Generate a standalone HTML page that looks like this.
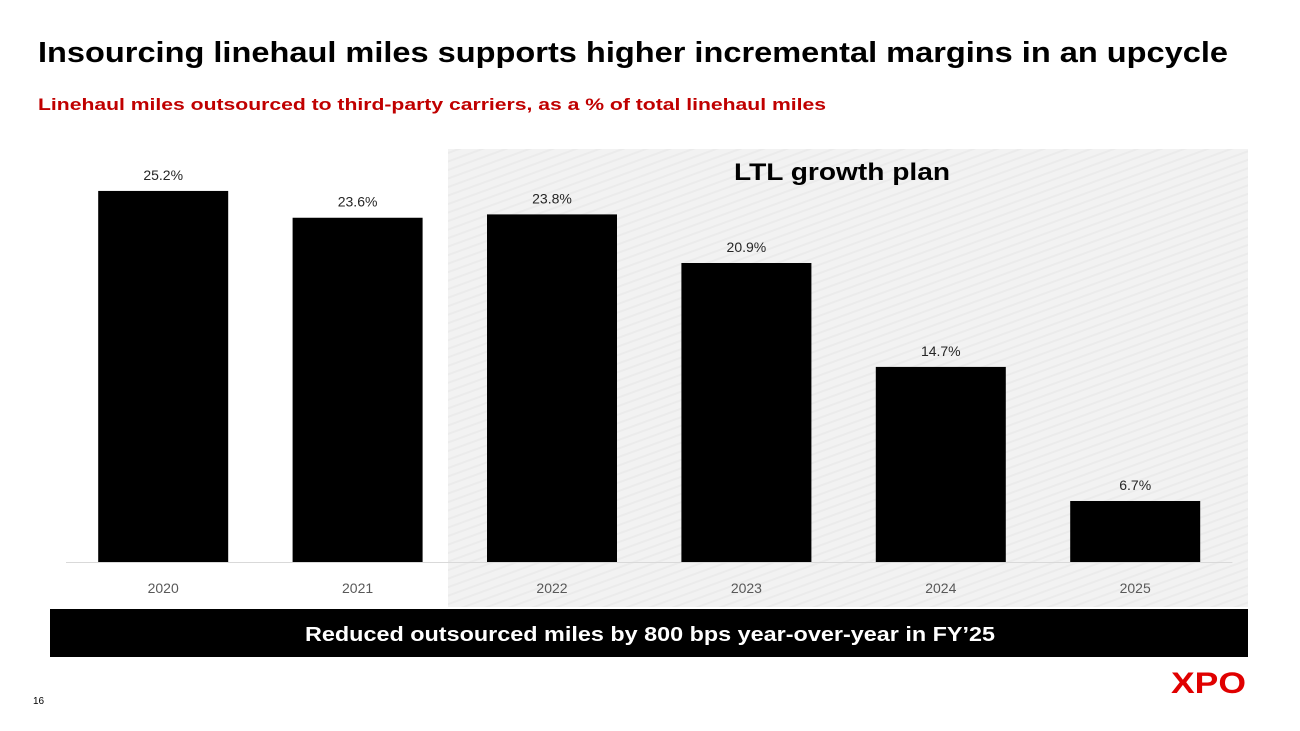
<!DOCTYPE html>
<html><head><meta charset="utf-8"><style>
body{margin:0;background:#fff;}
svg{display:block;font-family:"Liberation Sans",sans-serif;}
</style></head><body>
<svg width="1300" height="731" viewBox="0 0 1300 731">
<defs>
<pattern id="hatch" width="8" height="8" patternUnits="userSpaceOnUse" patternTransform="rotate(-20)">
<rect width="8" height="8" fill="#f2f2f2"/><rect width="8" height="2" fill="#ebebeb"/>
</pattern>
</defs>
<text x="38" y="62" font-size="29" font-weight="bold" fill="#000" textLength="1190" lengthAdjust="spacingAndGlyphs">Insourcing linehaul miles supports higher incremental margins in an upcycle</text>
<text x="38" y="110" font-size="17" font-weight="bold" fill="#c00000" textLength="788" lengthAdjust="spacingAndGlyphs">Linehaul miles outsourced to third-party carriers, as a % of total linehaul miles</text>
<rect x="448" y="149" width="800" height="458" fill="url(#hatch)"/>
<text x="842" y="180" font-size="24" font-weight="bold" text-anchor="middle" fill="#000" textLength="216" lengthAdjust="spacingAndGlyphs">LTL growth plan</text>
<g id="chart"></g>
<rect x="50" y="609" width="1198" height="48" fill="#000"/>
<text x="650" y="641" font-size="20" font-weight="bold" text-anchor="middle" fill="#fff" textLength="690" lengthAdjust="spacingAndGlyphs">Reduced outsourced miles by 800 bps year-over-year in FY’25</text>
<text x="33" y="704" font-size="10" fill="#000">16</text>
<text x="1171" y="693" font-size="30" font-weight="bold" fill="#e00000" textLength="75" lengthAdjust="spacingAndGlyphs">XPO</text>
</svg>
<script>
const categories=["2020","2021","2022","2023","2024","2025"];
const values=[25.2,23.6,23.8,20.9,14.7,6.7];
const valueLabels=["25.2%","23.6%","23.8%","20.9%","14.7%","6.7%"];
const NS="http://www.w3.org/2000/svg";
const g=document.getElementById("chart");
const x0=66,band=194.4,barW=130,base=562,yMin=3.06,pxPer=16.76;
function xScale(i){return x0+band*i+band/2;}
function yScale(v){return base-(v-yMin)*pxPer;}
function mk(t,a){const e=document.createElementNS(NS,t);for(const k in a)e.setAttribute(k,a[k]);g.appendChild(e);return e;}
const ax=mk("line",{x1:x0,x2:x0+band*6,y1:base+0.5,y2:base+0.5,stroke:"#d9d9d9","stroke-width":1});


categories.forEach((c,i)=>{
const cx=xScale(i),top=yScale(values[i]);
const r=mk("rect",{x:cx-barW/2,y:top,width:barW,height:base-top,fill:"#000"});


const l=mk("text",{x:cx,y:top-11,"font-size":14,"text-anchor":"middle",fill:"#262626"});
l.textContent=valueLabels[i];


const t=mk("text",{x:cx,y:593,"font-size":14,"text-anchor":"middle",fill:"#595959"});
t.textContent=c;


});
</script>
</body></html>
